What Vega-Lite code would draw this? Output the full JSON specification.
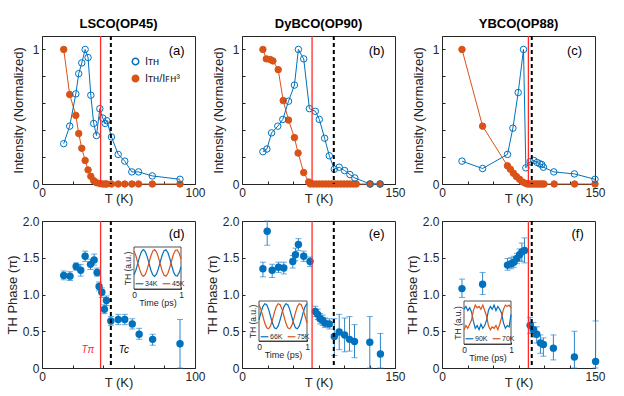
{
  "$schema": "https://vega.github.io/schema/vega-lite/v6.json",
  "background": "white",
  "padding": {"left": 5, "top": 17, "right": 0, "bottom": 0},
  "datasets": {
    "top": [
      {"p": "a", "s": "ratio", "T": [14.2,18.1,22.1,24.0,26.0,28.2,30.1,31.9,33.8,35.6,37.8,39.7,41.3,42.4,45.4,49.8,54.1,58.7,63.1,72.1,90.2], "I": [1.0,0.665,0.51,0.375,0.265,0.175,0.105,0.057,0.025,0.01,0.003,0,0,0,0,0,0,0,0,0,0]},
      {"p": "a", "s": "ITH", "T": [14.2,18.1,22.1,24.0,26.0,28.2,30.1,31.9,33.8,35.6,37.8,39.7,41.3,42.4,45.4,49.8,54.1,58.7,63.1,72.1,90.2], "I": [0.30,0.43,0.67,0.82,0.90,1.0,0.94,0.66,0.45,0.36,0.56,0.49,0.45,0.47,0.35,0.22,0.17,0.09,0.09,0.06,0.035]},
      {"p": "b", "s": "ratio", "T": [20.5,23.8,27.7,30.3,35.5,40.4,45.6,51.4,55.0,60.5,65.4,67,70,73,76,79,82,85,88,91,94,97,100,103,106,109,112,125.6,135.4], "I": [1.0,0.93,0.925,0.915,0.85,0.62,0.475,0.345,0.23,0.085,0.015,0,0,0,0,0,0,0,0,0,0,0,0,0,0,0,0,0,0]},
      {"p": "b", "s": "ITH", "T": [20.5,24.4,29.0,35.1,40.0,45.6,51.4,55.3,60.5,66.1,71.9,75.8,81.0,85.6,90.5,95.3,100.6,105.8,110.6,125.6,135.4], "I": [0.24,0.26,0.38,0.43,0.48,0.615,0.735,1.0,0.93,0.56,0.54,0.48,0.34,0.21,0.11,0.125,0.10,0.07,0.045,0.0,0.0]},
      {"p": "c", "s": "ratio", "T": [19.6,39.8,64.2,67,70,73,76,79,82,84,86,88,90,92,94,96,98,100,110,130,150], "I": [1.0,0.43,0.135,0.11,0.08,0.055,0.035,0.015,0.005,0,0,0,0,0,0,0,0,0,0,0,0]},
      {"p": "c", "s": "ITH", "T": [19.6,39.8,64.2,69.5,74.7,79.9,82.2,86.4,90.0,93.3,95.9,97.8,99.4,109.6,129.8,150], "I": [0.17,0.115,0.22,0.415,0.68,1.0,0.12,0.165,0.175,0.16,0.15,0.145,0.125,0.09,0.075,0.035]}
    ],
    "bot": [
      {"p": "d", "T": [14.2,18.3,22.3,25.3,28.2,31.7,34.1,36.0,37.3,39.1,40.8,42.1,45.0,49.8,54.1,59.0,63.5,72.3,90.2], "ph": [1.26,1.25,1.38,1.33,1.52,1.41,1.47,1.30,1.11,1.03,0.80,0.92,0.64,0.66,0.66,0.60,0.46,0.39,0.33], "lo": [1.20,1.19,1.33,1.25,1.45,1.34,1.40,1.25,1.05,0.96,0.74,0.85,0.58,0.59,0.59,0.53,0.39,0.31,0.0], "hi": [1.32,1.31,1.43,1.41,1.59,1.48,1.55,1.36,1.17,1.09,0.86,0.98,0.70,0.73,0.73,0.67,0.54,0.46,0.66]},
      {"p": "e", "T": [20.5,24.7,29.6,35.8,41.0,49.8,52.4,55.3,60.5,66.7,71.9,74.2,76.5,79.1,81.4,85.6,90.5,95.3,100.6,105.4,110.3,125.3,135.7], "ph": [1.35,1.86,1.33,1.37,1.36,1.45,1.54,1.68,1.52,1.45,0.77,0.73,0.67,0.65,0.61,0.60,0.43,0.49,0.45,0.39,0.36,0.35,0.19], "lo": [1.24,1.67,1.23,1.30,1.28,1.36,1.46,1.60,1.45,1.38,0.70,0.66,0.60,0.58,0.55,0.53,0.17,0.25,0.22,0.23,0.14,0.0,0.0], "hi": [1.44,2.0,1.41,1.44,1.44,1.53,1.63,1.76,1.59,1.51,0.84,0.80,0.74,0.72,0.68,0.67,0.67,0.73,0.68,0.70,0.59,0.70,0.47]},
      {"p": "f", "T": [19.6,39.8,64.2,67.8,70.4,73.4,76.0,78.3,80.9,86.4,89.7,92.9,96.5,99.4,109.2,129.8,150.6], "ph": [1.08,1.14,1.40,1.42,1.44,1.49,1.54,1.58,1.60,0.58,0.52,0.46,0.34,0.32,0.27,0.15,0.09], "lo": [0.96,1.00,1.33,1.35,1.37,1.42,1.46,1.45,1.43,0.47,0.42,0.34,0.20,0.16,0.11,0.0,0.0], "hi": [1.21,1.30,1.49,1.50,1.52,1.56,1.62,1.70,1.77,0.69,0.62,0.56,0.45,0.41,0.45,0.50,0.64]}
    ],
    "ins": [
      {"p": "d", "k": "34K", "t": [0,0.04,0.08,0.12,0.16,0.2,0.24,0.28,0.32,0.36,0.4,0.44,0.48,0.52,0.56,0.6,0.64,0.68,0.72,0.76,0.8,0.84,0.88,0.92,0.96,1], "v": [-0.89,-0.54,-0.03,0.48,0.86,1.0,0.86,0.48,-0.03,-0.54,-0.89,-1.0,-0.82,-0.42,0.1,0.6,0.92,0.99,0.79,0.36,-0.17,-0.65,-0.94,-0.98,-0.74,-0.3]},
      {"p": "d", "k": "45K", "t": [0,0.04,0.08,0.12,0.16,0.2,0.24,0.28,0.32,0.36,0.4,0.44,0.48,0.52,0.56,0.6,0.64,0.68,0.72,0.76,0.8,0.84,0.88,0.92,0.96,1], "v": [0.89,0.54,0.03,-0.48,-0.86,-1.0,-0.86,-0.48,0.03,0.54,0.89,1.0,0.82,0.42,-0.1,-0.6,-0.92,-0.99,-0.79,-0.36,0.17,0.65,0.94,0.98,0.74,0.3]},
      {"p": "e", "k": "66K", "t": [0,0.04,0.08,0.12,0.16,0.2,0.24,0.28,0.32,0.36,0.4,0.44,0.48,0.52,0.56,0.6,0.64,0.68,0.72,0.76,0.8,0.84,0.88,0.92,0.96,1], "v": [-0.28,0.28,0.76,0.99,0.91,0.54,0,-0.54,-0.91,-0.99,-0.76,-0.28,0.28,0.76,0.99,0.91,0.54,0,-0.54,-0.91,-0.99,-0.76,-0.28,0.28,0.76,0.99]},
      {"p": "e", "k": "75K", "t": [0,0.04,0.08,0.12,0.16,0.2,0.24,0.28,0.32,0.36,0.4,0.44,0.48,0.52,0.56,0.6,0.64,0.68,0.72,0.76,0.8,0.84,0.88,0.92,0.96,1], "v": [0.91,0.54,0,-0.54,-0.91,-0.99,-0.76,-0.28,0.28,0.76,0.99,0.91,0.54,0,-0.54,-0.91,-0.99,-0.76,-0.28,0.28,0.76,0.99,0.91,0.54,0,-0.54]},
      {"p": "f", "k": "90K", "t": [0,0.04,0.08,0.12,0.16,0.2,0.24,0.28,0.32,0.36,0.4,0.44,0.48,0.52,0.56,0.6,0.64,0.68,0.72,0.76,0.8,0.84,0.88,0.92,0.96,1], "v": [0.6,0.8,0.5,0.7,0.4,-0.3,-0.8,-0.6,-0.9,-0.5,-0.8,-0.6,-0.2,0.5,0.8,0.6,0.9,0.5,0.8,0.6,0.3,-0.4,-0.8,-0.6,-0.7,0.2]},
      {"p": "f", "k": "70K", "t": [0,0.04,0.08,0.12,0.16,0.2,0.24,0.28,0.32,0.36,0.4,0.44,0.48,0.52,0.56,0.6,0.64,0.68,0.72,0.76,0.8,0.84,0.88,0.92,0.96,1], "v": [-0.9,-0.6,-0.8,-0.5,-0.2,0.5,0.9,0.7,0.8,0.6,0.9,0.5,0.1,-0.6,-0.9,-0.7,-0.8,-0.6,-0.9,-0.5,0.0,0.6,0.9,0.8,0.9,0.7]}
    ],
    "trans": [
      {"p": "a", "Tpi": 38.3, "Tc": 45},
      {"p": "b", "Tpi": 68.7, "Tc": 90},
      {"p": "c", "Tpi": 84.7, "Tc": 88},
      {"p": "d", "Tpi": 38.3, "Tc": 45},
      {"p": "e", "Tpi": 68.7, "Tc": 90},
      {"p": "f", "Tpi": 84.7, "Tc": 88}
    ]
  },
  "concat": [
    {
      "width": 153, "height": 148,
      "title": "LSCO(OP45)",
      "layer": [
        {"data": {"name": "top"}, "transform": [{"filter": "datum.p == 'a'"}, {"flatten": ["T", "I"]}],
         "mark": {"type": "line", "strokeWidth": 1},
         "encoding": {
           "x": {"field": "T", "type": "quantitative", "scale": {"domain": [0, 100], "nice": false}, "axis": {"orient": "bottom", "title": "T (K)", "values": [0,20,40,60,80,100], "tickCount": 20, "labelExpr": "datum.value == 0 || datum.value == 100 ? datum.label : ''", "labelOverlap": false, "labelFlush": false, "titlePadding": -6}},
           "y": {"field": "I", "type": "quantitative", "scale": {"domain": [0, 1.1], "nice": false}, "axis": {"orient": "left", "title": "Intensity (Normalized)", "values": [0,0.2,0.4,0.6,0.8,1], "tickCount": 20, "labelExpr": "datum.value == 0 ? '0' : datum.value == 1 ? '1' : ''", "labelOverlap": false, "labelFlush": false, "titlePadding": 7}},
           "stroke": {"field": "s", "type": "nominal", "scale": {"domain": ["ITH", "ratio"], "range": ["#0072BD", "#D95319"]}, "legend": {"orient": "none", "legendX": 88, "legendY": 20, "title": null, "symbolType": "circle", "labelExpr": "datum.value == 'ITH' ? 'Iᴛʜ' : 'Iᴛʜ/Iꜰʜ³'"}}
         }},
        {"data": {"name": "top"}, "transform": [{"filter": "datum.p == 'a'"}, {"flatten": ["T", "I"]}],
         "mark": {"type": "point", "shape": "circle", "filled": true, "size": 42, "strokeWidth": 1, "opacity": 1},
         "encoding": {
           "x": {"field": "T", "type": "quantitative"},
           "y": {"field": "I", "type": "quantitative"},
           "stroke": {"field": "s", "type": "nominal", "scale": {"domain": ["ITH", "ratio"], "range": ["#0072BD", "#D95319"]}, "legend": {"orient": "none", "legendX": 88, "legendY": 20, "title": null, "symbolType": "circle", "labelExpr": "datum.value == 'ITH' ? 'Iᴛʜ' : 'Iᴛʜ/Iꜰʜ³'"}},
           "fill": {"field": "s", "type": "nominal", "scale": {"domain": ["ITH", "ratio"], "range": ["transparent", "#D95319"]}, "legend": {"orient": "none", "legendX": 88, "legendY": 20, "title": null, "symbolType": "circle", "labelExpr": "datum.value == 'ITH' ? 'Iᴛʜ' : 'Iᴛʜ/Iꜰʜ³'"}}
         }},
        {"data": {"name": "trans"}, "transform": [{"filter": "datum.p == 'a'"}],
         "mark": {"type": "rule", "color": "#FF2A2A", "strokeWidth": 1.3},
         "encoding": {"x": {"field": "Tpi", "type": "quantitative"}}},
        {"data": {"name": "trans"}, "transform": [{"filter": "datum.p == 'a'"}],
         "mark": {"type": "rule", "color": "black", "strokeWidth": 2, "strokeDash": [4, 3]},
         "encoding": {"x": {"field": "Tc", "type": "quantitative"}}},
        {"data": {"values": [{"lab": "(a)"}]},
         "mark": {"type": "text", "fontSize": 13, "color": "black"},
         "encoding": {"x": {"datum": 88, "type": "quantitative"}, "y": {"datum": 0.99, "type": "quantitative"}, "text": {"field": "lab"}}}
      ]
    },
    {
      "width": 153, "height": 148,
      "title": "DyBCO(OP90)",
      "layer": [
        {"data": {"name": "top"}, "transform": [{"filter": "datum.p == 'b'"}, {"flatten": ["T", "I"]}],
         "mark": {"type": "line", "strokeWidth": 1},
         "encoding": {
           "x": {"field": "T", "type": "quantitative", "scale": {"domain": [0, 150], "nice": false}, "axis": {"orient": "bottom", "title": "T (K)", "values": [0,25,50,75,100,125,150], "tickCount": 20, "labelExpr": "datum.value == 0 || datum.value == 150 ? datum.label : ''", "labelOverlap": false, "labelFlush": false, "titlePadding": -6}},
           "y": {"field": "I", "type": "quantitative", "scale": {"domain": [0, 1.1], "nice": false}, "axis": {"orient": "left", "title": "Intensity (Normalized)", "values": [0,0.2,0.4,0.6,0.8,1], "tickCount": 20, "labelExpr": "datum.value == 0 ? '0' : datum.value == 1 ? '1' : ''", "labelOverlap": false, "labelFlush": false, "titlePadding": 7}},
           "stroke": {"field": "s", "type": "nominal", "scale": {"domain": ["ITH", "ratio"], "range": ["#0072BD", "#D95319"]}, "legend": null}
         }},
        {"data": {"name": "top"}, "transform": [{"filter": "datum.p == 'b'"}, {"flatten": ["T", "I"]}],
         "mark": {"type": "point", "shape": "circle", "filled": true, "size": 42, "strokeWidth": 1, "opacity": 1},
         "encoding": {
           "x": {"field": "T", "type": "quantitative"},
           "y": {"field": "I", "type": "quantitative"},
           "stroke": {"field": "s", "type": "nominal", "scale": {"domain": ["ITH", "ratio"], "range": ["#0072BD", "#D95319"]}, "legend": null},
           "fill": {"field": "s", "type": "nominal", "scale": {"domain": ["ITH", "ratio"], "range": ["transparent", "#D95319"]}, "legend": null}
         }},
        {"data": {"name": "trans"}, "transform": [{"filter": "datum.p == 'b'"}],
         "mark": {"type": "rule", "color": "#FF2A2A", "strokeWidth": 1.3},
         "encoding": {"x": {"field": "Tpi", "type": "quantitative"}}},
        {"data": {"name": "trans"}, "transform": [{"filter": "datum.p == 'b'"}],
         "mark": {"type": "rule", "color": "black", "strokeWidth": 2, "strokeDash": [4, 3]},
         "encoding": {"x": {"field": "Tc", "type": "quantitative"}}},
        {"data": {"values": [{"lab": "(b)"}]},
         "mark": {"type": "text", "fontSize": 13, "color": "black"},
         "encoding": {"x": {"datum": 132, "type": "quantitative"}, "y": {"datum": 0.99, "type": "quantitative"}, "text": {"field": "lab"}}}
      ]
    },
    {
      "width": 153, "height": 148,
      "title": "YBCO(OP88)",
      "layer": [
        {"data": {"name": "top"}, "transform": [{"filter": "datum.p == 'c'"}, {"flatten": ["T", "I"]}],
         "mark": {"type": "line", "strokeWidth": 1},
         "encoding": {
           "x": {"field": "T", "type": "quantitative", "scale": {"domain": [0, 150], "nice": false}, "axis": {"orient": "bottom", "title": "T (K)", "values": [0,25,50,75,100,125,150], "tickCount": 20, "labelExpr": "datum.value == 0 || datum.value == 150 ? datum.label : ''", "labelOverlap": false, "labelFlush": false, "titlePadding": -6}},
           "y": {"field": "I", "type": "quantitative", "scale": {"domain": [0, 1.1], "nice": false}, "axis": {"orient": "left", "title": "Intensity (Normalized)", "values": [0,0.2,0.4,0.6,0.8,1], "tickCount": 20, "labelExpr": "datum.value == 0 ? '0' : datum.value == 1 ? '1' : ''", "labelOverlap": false, "labelFlush": false, "titlePadding": 7}},
           "stroke": {"field": "s", "type": "nominal", "scale": {"domain": ["ITH", "ratio"], "range": ["#0072BD", "#D95319"]}, "legend": null}
         }},
        {"data": {"name": "top"}, "transform": [{"filter": "datum.p == 'c'"}, {"flatten": ["T", "I"]}],
         "mark": {"type": "point", "shape": "circle", "filled": true, "size": 42, "strokeWidth": 1, "opacity": 1},
         "encoding": {
           "x": {"field": "T", "type": "quantitative"},
           "y": {"field": "I", "type": "quantitative"},
           "stroke": {"field": "s", "type": "nominal", "scale": {"domain": ["ITH", "ratio"], "range": ["#0072BD", "#D95319"]}, "legend": null},
           "fill": {"field": "s", "type": "nominal", "scale": {"domain": ["ITH", "ratio"], "range": ["transparent", "#D95319"]}, "legend": null}
         }},
        {"data": {"name": "trans"}, "transform": [{"filter": "datum.p == 'c'"}],
         "mark": {"type": "rule", "color": "#FF2A2A", "strokeWidth": 1.3},
         "encoding": {"x": {"field": "Tpi", "type": "quantitative"}}},
        {"data": {"name": "trans"}, "transform": [{"filter": "datum.p == 'c'"}],
         "mark": {"type": "rule", "color": "black", "strokeWidth": 2, "strokeDash": [4, 3]},
         "encoding": {"x": {"field": "Tc", "type": "quantitative"}}},
        {"data": {"values": [{"lab": "(c)"}]},
         "mark": {"type": "text", "fontSize": 13, "color": "black"},
         "encoding": {"x": {"datum": 130, "type": "quantitative"}, "y": {"datum": 0.99, "type": "quantitative"}, "text": {"field": "lab"}}}
      ]
    },
    {
      "width": 153, "height": 147,
      "layer": [
        {"layer": [
          {"data": {"name": "bot"}, "transform": [{"filter": "datum.p == 'd'"}, {"flatten": ["T", "ph", "lo", "hi"]}],
           "mark": {"type": "errorbar", "ticks": {"size": 6}, "color": "#2E86CC", "thickness": 1},
           "encoding": {
             "x": {"field": "T", "type": "quantitative", "scale": {"domain": [0, 100], "nice": false}, "axis": {"orient": "bottom", "title": "T (K)", "values": [0,20,40,60,80,100], "tickCount": 20, "labelExpr": "datum.value == 0 || datum.value == 100 ? datum.label : ''", "labelOverlap": false, "labelFlush": false, "titlePadding": -6}},
             "y": {"field": "lo", "type": "quantitative", "scale": {"domain": [0, 2], "nice": false}, "axis": {"orient": "left", "title": "TH Phase (π)", "values": [0,0.5,1,1.5,2], "tickCount": 20, "labelExpr": "datum.value == 0 ? '0' : format(datum.value, '.1f')", "labelOverlap": false, "labelFlush": false, "titlePadding": 3}},
             "y2": {"field": "hi"}
           }},
          {"data": {"name": "bot"}, "transform": [{"filter": "datum.p == 'd'"}, {"flatten": ["T", "ph", "lo", "hi"]}],
           "mark": {"type": "circle", "size": 55, "color": "#0072BD", "opacity": 1},
           "encoding": {"x": {"field": "T", "type": "quantitative"}, "y": {"field": "ph", "type": "quantitative"}}},
          {"data": {"name": "trans"}, "transform": [{"filter": "datum.p == 'd'"}],
           "mark": {"type": "rule", "color": "#FF2A2A", "strokeWidth": 1.3},
           "encoding": {"x": {"field": "Tpi", "type": "quantitative"}}},
          {"data": {"name": "trans"}, "transform": [{"filter": "datum.p == 'd'"}],
           "mark": {"type": "rule", "color": "black", "strokeWidth": 2, "strokeDash": [4, 3]},
           "encoding": {"x": {"field": "Tc", "type": "quantitative"}}},
          {"data": {"values": [{"lab": "(d)"}]},
           "mark": {"type": "text", "fontSize": 13, "color": "black"},
           "encoding": {"x": {"datum": 88, "type": "quantitative"}, "y": {"datum": 1.82, "type": "quantitative"}, "text": {"field": "lab"}}},
          {"data": {"values": [{"lab": "Tπ"}]},
           "mark": {"type": "text", "fontSize": 10, "fontStyle": "italic", "color": "#FF2A2A"},
           "encoding": {"x": {"datum": 30, "type": "quantitative"}, "y": {"datum": 0.25, "type": "quantitative"}, "text": {"field": "lab"}}},
          {"data": {"values": [{"lab": "Tc"}]},
           "mark": {"type": "text", "fontSize": 10, "fontStyle": "italic", "color": "black"},
           "encoding": {"x": {"datum": 53.5, "type": "quantitative"}, "y": {"datum": 0.24, "type": "quantitative"}, "text": {"field": "lab"}}}
        ]},
        {"layer": [
          {"data": {"values": [{}]},
           "mark": {"type": "rect", "fill": "white", "stroke": "#262626", "strokeWidth": 0.8},
           "encoding": {
             "x": {"datum": 0, "type": "quantitative", "scale": {"domain": [0, 1], "range": [92, 139], "nice": false}, "axis": {"orient": "bottom", "offset": -79, "values": [0, 1], "format": "d", "title": "Time (ps)", "titleFontSize": 9, "labelFontSize": 8.5, "tickSize": -2, "labelPadding": 3, "titlePadding": 0, "domainWidth": 0.8, "labelOverlap": false}},
             "x2": {"datum": 1},
             "y": {"datum": -1.95, "type": "quantitative", "scale": {"domain": [-1.95, 1.2], "range": [68, 26], "nice": false}, "axis": {"orient": "left", "offset": -92, "labels": false, "ticks": false, "title": "TH (a.u.)", "titleFontSize": 8.5, "titlePadding": 2, "domainWidth": 0.8}},
             "y2": {"datum": 1.2}
           }},
          {"data": {"name": "ins"}, "transform": [{"filter": "datum.p == 'd'"}, {"flatten": ["t", "v"]}],
           "mark": {"type": "line", "strokeWidth": 1.2},
           "encoding": {
             "x": {"field": "t", "type": "quantitative"},
             "y": {"field": "v", "type": "quantitative"},
             "stroke": {"field": "k", "type": "nominal", "scale": {"domain": ["34K", "45K"], "range": ["#0072BD", "#D95319"]}, "legend": {"orient": "none", "legendX": 93, "legendY": 58, "direction": "horizontal", "title": null, "symbolType": "stroke", "symbolSize": 60, "symbolStrokeWidth": 1.2, "labelFontSize": 7, "columnPadding": 2, "padding": 0, "labelOffset": 1}}
           }}
        ]}
      ],
      "resolve": {"scale": {"x": "independent", "y": "independent"}}
    },
    {
      "width": 153, "height": 147,
      "layer": [
        {"layer": [
          {"data": {"name": "bot"}, "transform": [{"filter": "datum.p == 'e'"}, {"flatten": ["T", "ph", "lo", "hi"]}],
           "mark": {"type": "errorbar", "ticks": {"size": 6}, "color": "#2E86CC", "thickness": 1},
           "encoding": {
             "x": {"field": "T", "type": "quantitative", "scale": {"domain": [0, 150], "nice": false}, "axis": {"orient": "bottom", "title": "T (K)", "values": [0,25,50,75,100,125,150], "tickCount": 20, "labelExpr": "datum.value == 0 || datum.value == 150 ? datum.label : ''", "labelOverlap": false, "labelFlush": false, "titlePadding": -6}},
             "y": {"field": "lo", "type": "quantitative", "scale": {"domain": [0, 2], "nice": false}, "axis": {"orient": "left", "title": "TH Phase (π)", "values": [0,0.5,1,1.5,2], "tickCount": 20, "labelExpr": "datum.value == 0 ? '0' : format(datum.value, '.1f')", "labelOverlap": false, "labelFlush": false, "titlePadding": 3}},
             "y2": {"field": "hi"}
           }},
          {"data": {"name": "bot"}, "transform": [{"filter": "datum.p == 'e'"}, {"flatten": ["T", "ph", "lo", "hi"]}],
           "mark": {"type": "circle", "size": 55, "color": "#0072BD", "opacity": 1},
           "encoding": {"x": {"field": "T", "type": "quantitative"}, "y": {"field": "ph", "type": "quantitative"}}},
          {"data": {"name": "trans"}, "transform": [{"filter": "datum.p == 'e'"}],
           "mark": {"type": "rule", "color": "#FF2A2A", "strokeWidth": 1.3},
           "encoding": {"x": {"field": "Tpi", "type": "quantitative"}}},
          {"data": {"name": "trans"}, "transform": [{"filter": "datum.p == 'e'"}],
           "mark": {"type": "rule", "color": "black", "strokeWidth": 2, "strokeDash": [4, 3]},
           "encoding": {"x": {"field": "Tc", "type": "quantitative"}}},
          {"data": {"values": [{"lab": "(e)"}]},
           "mark": {"type": "text", "fontSize": 13, "color": "black"},
           "encoding": {"x": {"datum": 132, "type": "quantitative"}, "y": {"datum": 1.82, "type": "quantitative"}, "text": {"field": "lab"}}}
        ]},
        {"layer": [
          {"data": {"values": [{}]},
           "mark": {"type": "rect", "fill": "white", "stroke": "#262626", "strokeWidth": 0.8},
           "encoding": {
             "x": {"datum": 0, "type": "quantitative", "scale": {"domain": [0, 1], "range": [17, 65], "nice": false}, "axis": {"orient": "bottom", "offset": -27, "values": [0, 1], "format": "d", "title": "Time (ps)", "titleFontSize": 9, "labelFontSize": 8.5, "tickSize": -2, "labelPadding": 3, "titlePadding": 0, "domainWidth": 0.8, "labelOverlap": false}},
             "x2": {"datum": 1},
             "y": {"datum": -1.95, "type": "quantitative", "scale": {"domain": [-1.95, 1.2], "range": [120, 80], "nice": false}, "axis": {"orient": "left", "offset": -17, "labels": false, "ticks": false, "title": "TH (a.u.)", "titleFontSize": 8.5, "titlePadding": 2, "domainWidth": 0.8}},
             "y2": {"datum": 1.2}
           }},
          {"data": {"name": "ins"}, "transform": [{"filter": "datum.p == 'e'"}, {"flatten": ["t", "v"]}],
           "mark": {"type": "line", "strokeWidth": 1.2},
           "encoding": {
             "x": {"field": "t", "type": "quantitative"},
             "y": {"field": "v", "type": "quantitative"},
             "stroke": {"field": "k", "type": "nominal", "scale": {"domain": ["66K", "75K"], "range": ["#0072BD", "#D95319"]}, "legend": {"orient": "none", "legendX": 18, "legendY": 111, "direction": "horizontal", "title": null, "symbolType": "stroke", "symbolSize": 60, "symbolStrokeWidth": 1.2, "labelFontSize": 7, "columnPadding": 2, "padding": 0, "labelOffset": 1}}
           }}
        ]}
      ],
      "resolve": {"scale": {"x": "independent", "y": "independent"}}
    },
    {
      "width": 153, "height": 147,
      "layer": [
        {"layer": [
          {"data": {"name": "bot"}, "transform": [{"filter": "datum.p == 'f'"}, {"flatten": ["T", "ph", "lo", "hi"]}],
           "mark": {"type": "errorbar", "ticks": {"size": 6}, "color": "#2E86CC", "thickness": 1},
           "encoding": {
             "x": {"field": "T", "type": "quantitative", "scale": {"domain": [0, 150], "nice": false}, "axis": {"orient": "bottom", "title": "T (K)", "values": [0,25,50,75,100,125,150], "tickCount": 20, "labelExpr": "datum.value == 0 || datum.value == 150 ? datum.label : ''", "labelOverlap": false, "labelFlush": false, "titlePadding": -6}},
             "y": {"field": "lo", "type": "quantitative", "scale": {"domain": [0, 2], "nice": false}, "axis": {"orient": "left", "title": "TH Phase (π)", "values": [0,0.5,1,1.5,2], "tickCount": 20, "labelExpr": "datum.value == 0 ? '0' : format(datum.value, '.1f')", "labelOverlap": false, "labelFlush": false, "titlePadding": 3}},
             "y2": {"field": "hi"}
           }},
          {"data": {"name": "bot"}, "transform": [{"filter": "datum.p == 'f'"}, {"flatten": ["T", "ph", "lo", "hi"]}],
           "mark": {"type": "circle", "size": 55, "color": "#0072BD", "opacity": 1},
           "encoding": {"x": {"field": "T", "type": "quantitative"}, "y": {"field": "ph", "type": "quantitative"}}},
          {"data": {"name": "trans"}, "transform": [{"filter": "datum.p == 'f'"}],
           "mark": {"type": "rule", "color": "#FF2A2A", "strokeWidth": 1.3},
           "encoding": {"x": {"field": "Tpi", "type": "quantitative"}}},
          {"data": {"name": "trans"}, "transform": [{"filter": "datum.p == 'f'"}],
           "mark": {"type": "rule", "color": "black", "strokeWidth": 2, "strokeDash": [4, 3]},
           "encoding": {"x": {"field": "Tc", "type": "quantitative"}}},
          {"data": {"values": [{"lab": "(f)"}]},
           "mark": {"type": "text", "fontSize": 13, "color": "black"},
           "encoding": {"x": {"datum": 133, "type": "quantitative"}, "y": {"datum": 1.82, "type": "quantitative"}, "text": {"field": "lab"}}}
        ]},
        {"layer": [
          {"data": {"values": [{}]},
           "mark": {"type": "rect", "fill": "white", "stroke": "#262626", "strokeWidth": 0.8},
           "encoding": {
             "x": {"datum": 0, "type": "quantitative", "scale": {"domain": [0, 1], "range": [22, 69], "nice": false}, "axis": {"orient": "bottom", "offset": -24, "values": [0, 1], "format": "d", "title": "Time (ps)", "titleFontSize": 9, "labelFontSize": 8.5, "tickSize": -2, "labelPadding": 3, "titlePadding": 0, "domainWidth": 0.8, "labelOverlap": false}},
             "x2": {"datum": 1},
             "y": {"datum": -1.95, "type": "quantitative", "scale": {"domain": [-1.95, 1.2], "range": [123, 80], "nice": false}, "axis": {"orient": "left", "offset": -22, "labels": false, "ticks": false, "title": "TH (a.u.)", "titleFontSize": 8.5, "titlePadding": 2, "domainWidth": 0.8}},
             "y2": {"datum": 1.2}
           }},
          {"data": {"name": "ins"}, "transform": [{"filter": "datum.p == 'f'"}, {"flatten": ["t", "v"]}],
           "mark": {"type": "line", "strokeWidth": 1.2},
           "encoding": {
             "x": {"field": "t", "type": "quantitative"},
             "y": {"field": "v", "type": "quantitative"},
             "stroke": {"field": "k", "type": "nominal", "scale": {"domain": ["90K", "70K"], "range": ["#0072BD", "#D95319"]}, "legend": {"orient": "none", "legendX": 23, "legendY": 113, "direction": "horizontal", "title": null, "symbolType": "stroke", "symbolSize": 60, "symbolStrokeWidth": 1.2, "labelFontSize": 7, "columnPadding": 2, "padding": 0, "labelOffset": 1}}
           }}
        ]}
      ],
      "resolve": {"scale": {"x": "independent", "y": "independent"}}
    }
  ],
  "columns": 3,
  "spacing": {"row": 37, "column": 47},
  "bounds": "flush",
  "resolve": {"scale": {"stroke": "independent", "fill": "independent"}, "legend": {"stroke": "independent", "fill": "independent"}},
  "config": {
    "font": "Liberation Sans",
    "view": {"stroke": "#262626", "strokeWidth": 1},
    "axis": {"grid": false, "domainColor": "#262626", "domainWidth": 1, "tickColor": "#262626", "tickSize": -3, "tickWidth": 1, "labelPadding": 6, "labelColor": "#262626", "titleColor": "#262626", "labelFontSize": 12, "titleFontSize": 13, "titleFontWeight": "normal", "labelFlush": false, "labelOverlap": false, "labelFont": "Liberation Sans", "titleFont": "Liberation Sans"},
    "title": {"fontSize": 13, "fontWeight": "bold", "color": "black", "offset": 4, "font": "Liberation Sans"},
    "legend": {"labelFont": "Liberation Sans", "labelFontSize": 11, "labelColor": "#262626", "symbolSize": 42, "rowPadding": 4}
  }
}
